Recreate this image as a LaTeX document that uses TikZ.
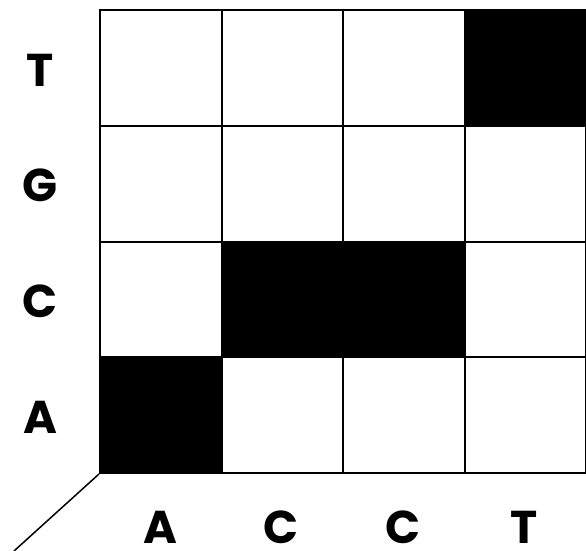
\documentclass[tikz,border=0pt]{standalone}
\usepackage{fontspec}
\setmainfont{Poppins}
\usepackage{tikz}
\usetikzlibrary{calc}

\begin{document}
\begin{tikzpicture}[
  x=1pt, y=-1pt,
  cell/.style={draw=black, line width=2pt, minimum width=121.5pt, minimum height=115.75pt, inner sep=0pt, anchor=north west},
  lbl/.style={font=\fontsize{46}{46}\selectfont\bfseries, inner sep=0pt}
]
\useasboundingbox (0,0) rectangle (586,551);
% dot plot grid
\foreach \c/\i in {A/0,C/1,C/2,T/3}{
  \foreach \r/\j in {T/0,G/1,C/2,A/3}{
    \ifx\c\r
      \node[cell, fill=black] (c\i\j) at ({99+121.5*\i},{9+115.75*\j}) {};
    \else
      \node[cell, fill=white] (c\i\j) at ({99+121.5*\i},{9+115.75*\j}) {};
    \fi
  }
}
% row labels
\foreach \r/\j in {T/0,G/1,C/2,A/3}
  \node[lbl] (r\j) at (40,{70+115.75*\j}) {\r};
% column labels
\foreach \c/\i in {A/0,C/1,C/2,T/3}
  \node[lbl] (k\i) at ({160+121.5*\i},527) {\c};
% axis corner
\coordinate (tail) at (14,551);
\draw[line width=1.5pt] (c03.south west) -- (tail);
\end{tikzpicture}
\end{document}
